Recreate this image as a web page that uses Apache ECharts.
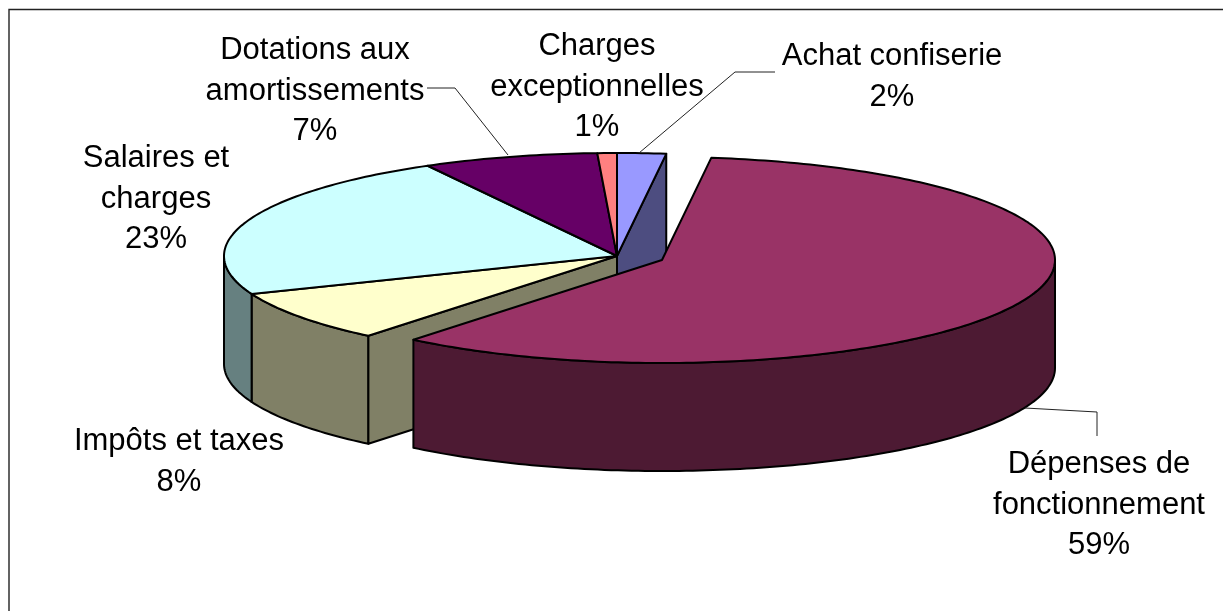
<!DOCTYPE html>
<html>
<head>
<meta charset="utf-8">
<script src="https://cdn.jsdelivr.net/npm/echarts@6/dist/echarts.min.js"></script>
<style>
  html, body { margin: 0; background: #fff; }
  #main { width: 1223px; height: 611px; }
</style>
</head>
<body>
<div id="main"></div>
<script>
// clockwise from the cut of the exploded slice
const categories = ['Dépenses de\nfonctionnement', 'Impôts et taxes', 'Salaires et\ncharges', 'Dotations aux\namortissements', 'Charges\nexceptionnelles', 'Achat confiserie']
const shares = [58.9, 8.1, 23, 7.2, 0.8, 2]

const topColors = ['#993366', '#FFFFCC', '#CCFFFF', '#660066', '#FF8080', '#9999FF']
const wallColors = ['#4D1A33', '#808066', '#668080', '#330033', '#804040', '#4D4D80']

// layout of the tilted pie
const pie = { cx: 617, cy: 256, rx: 393, ry: 103, depth: 108, startDeg: 7.2 }
const explode = [{ dx: 45, dy: 4 }, null, null, null, null, null]
const labelAt = [[1099, 505], [179, 462], [156, 199], [315, 91], [597, 87], [892, 77]]
const leaders = [
  [[1025, 408], [1097, 412], [1097, 436]],
  null,
  null,
  [[427, 88], [455, 88], [508, 155]],
  null,
  [[639, 153], [735, 72], [775, 72]]
]

const total = shares.reduce((a, b) => a + b, 0)
const startOf = i => pie.startDeg + shares.slice(0, i).reduce((a, b) => a + b, 0) / total * 360

const rimPoint = (o, deg, drop) => {
  const t = deg * Math.PI / 180
  return [o.x + pie.rx * Math.sin(t), o.y - pie.ry * Math.cos(t) + drop]
}
const arc = (o, from, to, drop) => {
  const pts = []
  const n = Math.max(2, Math.ceil(Math.abs(to - from)))
  for (let k = 0; k <= n; k++) pts.push(rimPoint(o, from + (to - from) * k / n, drop))
  return pts
}

const face = (points, fill, z2) => ({
  type: 'polygon',
  z2,
  shape: { points },
  style: { fill, stroke: '#000', lineWidth: 2, lineJoin: 'round' }
})

const renderItem = (params, api) => {
  const i = params.dataIndex
  const value = api.value(0)
  const from = startOf(i)
  const to = from + value / total * 360
  const off = explode[i] || { dx: 0, dy: 0 }
  const o = { x: pie.cx + off.dx, y: pie.cy + off.dy }
  const base = explode[i] ? 3 : 1
  const children = []

  // visible front wall, only the half of the rim facing the viewer
  const a = Math.max(from, 90)
  const b = Math.min(to, 270)
  if (b > a) {
    children.push(face(arc(o, a, b, 0).concat(arc(o, b, a, pie.depth)), wallColors[i], base))
  }
  // cut faces looking towards the viewer, when the neighbour has been pulled away
  const bottomApex = [o.x, o.y + pie.depth]
  if (i === 1) {
    const p = rimPoint(o, from, 0)
    children.push(face([[o.x, o.y], p, [p[0], p[1] + pie.depth], bottomApex], wallColors[i], base))
  }
  if (i === categories.length - 1) {
    const p = rimPoint(o, to, 0)
    children.push(face([[o.x, o.y], p, [p[0], p[1] + pie.depth], bottomApex], wallColors[i], base))
  }
  // top surface
  children.push(face([[o.x, o.y]].concat(arc(o, from, to, 0)), topColors[i], base + 1))

  if (leaders[i]) {
    children.push({
      type: 'polyline',
      z2: 6,
      shape: { points: leaders[i] },
      style: { fill: null, stroke: '#222', lineWidth: 1 }
    })
  }
  children.push({
    type: 'text',
    z2: 7,
    style: {
      text: categories[i] + '\n' + Math.round(value) + '%',
      x: labelAt[i][0],
      y: labelAt[i][1],
      align: 'center',
      verticalAlign: 'middle',
      fontFamily: '"Liberation Sans", Arial, sans-serif',
      fontSize: 31,
      lineHeight: 40.5,
      fill: '#000'
    }
  })
  return { type: 'group', children }
}

const chart = echarts.init(document.getElementById('main'), null, { renderer: 'canvas' })
chart.setOption({
  backgroundColor: '#fff',
  animation: false,
  graphic: [{
    type: 'polyline',
    shape: { points: [[9, 611], [9, 9.5], [1223, 9.5]] },
    style: { fill: null, stroke: '#222', lineWidth: 1.4 }
  }],
  series: [{
    type: 'custom',
    coordinateSystem: 'none',
    clip: false,
    renderItem,
    data: shares.map((v, i) => ({ name: categories[i], value: [v] }))
  }]
})
</script>
</body>
</html>
